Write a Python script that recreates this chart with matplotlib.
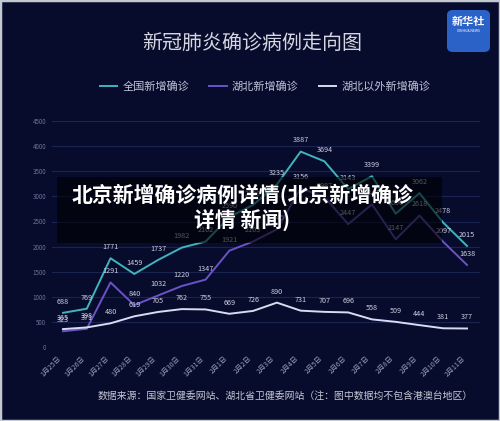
import matplotlib
matplotlib.use("Agg")
import matplotlib.pyplot as plt
from matplotlib.patches import Rectangle, FancyBboxPatch

plt.rcParams['font.family'] = ['Noto Sans CJK SC', 'DejaVu Sans']

dates = ["1月25日", "1月26日", "1月27日", "1月28日", "1月29日", "1月30日", "1月31日",
         "2月1日", "2月2日", "2月3日", "2月4日", "2月5日", "2月6日", "2月7日",
         "2月8日", "2月9日", "2月10日", "2月11日"]
national = [688, 769, 1771, 1459, 1737, 1982, 2102, 2590, 2829, 3235, 3887, 3694,
            3143, 3399, 2656, 3062, 2478, 2015]
hubei = [323, 371, 1291, 840, 1032, 1220, 1347, 1921, 2103, 2345, 3156, 2987,
         2447, 2841, 2147, 2618, 2097, 1638]
outside = [365, 398, 480, 619, 705, 762, 755, 669, 726, 890, 731, 707,
           696, 558, 509, 444, 381, 377]
series_names = ["全国新增确诊", "湖北新增确诊", "湖北以外新增确诊"]
yticks = [0, 500, 1000, 1500, 2000, 2500, 3000, 3500, 4000, 4500]

title = "新冠肺炎确诊病例走向图"
source = "数据来源：国家卫健委网站、湖北省卫健委网站（注：图中数据均不包含港澳台地区）"
overlay = "北京新增确诊病例详情(北京新增确诊\n详情 新闻)"

BG = "#080c2c"
W, H = 500, 421
fig = plt.figure(figsize=(W / 100, H / 100), dpi=100, facecolor=BG)

def fx(px):
    return px / W

def fy(py):
    return 1 - py / H

ax = fig.add_axes([fx(52), fy(347.5), fx(480) - fx(52), fy(120.7) - fy(347.5)])
ax.set_facecolor(BG)
x = list(range(len(dates)))
colors = ["#40b4bc", "#6a52c8", "#d8dcf0"]
for vals, c, name in zip([national, hubei, outside], colors, series_names):
    ax.plot(x, vals, color=c, lw=1.4, label=name, zorder=3)
    for xi, v in zip(x, vals):
        ax.annotate(str(v), (xi, v), xytext=(0, 8), textcoords="offset points",
                    ha="center", va="center", fontsize=5.2, color="#cdd0e2", zorder=4)

ax.set_xlim(-0.463, 17.547)
ax.set_ylim(0, 4500)
ax.set_yticks(yticks)
ax.set_yticklabels([str(t) for t in yticks])
ax.set_xticks(x)
ax.set_xticklabels(dates, rotation=45, ha="right", va="top")
ax.tick_params(axis="y", length=0, pad=4, labelsize=4.5, labelcolor="#6c7294")
ax.tick_params(axis="x", length=0, pad=5, labelsize=5, labelcolor="#959bba")
for s in ax.spines.values():
    s.set_visible(False)
ax.grid(axis="y", color="#1a2452", lw=0.8)
ax.set_axisbelow(True)

fig.text(fx(252), fy(43), title, ha="center", va="center", fontsize=14.4, color="#d4d6e0")

leg = fig.legend(loc="center", bbox_to_anchor=(fx(265), fy(87)), ncol=3, frameon=False,
                 fontsize=8, handlelength=1.6, handletextpad=0.45, columnspacing=1.8,
                 labelcolor="#c0c4d8")

fig.text(fx(285), fy(396), source, ha="center", va="center", fontsize=7.1, color="#c4c8d4")

# overlay box
fig.patches.append(Rectangle((fx(57), fy(243)), fx(442) - fx(57), fy(177) - fy(243),
                             transform=fig.transFigure, facecolor="black", alpha=0.6,
                             edgecolor="none", zorder=10))
fig.text(fx(242), fy(207), overlay, ha="center", va="center", multialignment="center",
         fontsize=15, color="white", fontweight="black", linespacing=1.15, zorder=11)

# logo
fig.patches.append(FancyBboxPatch((fx(447), fy(52)), fx(43), fy(10) - fy(52),
                                  boxstyle="round,pad=0,rounding_size=0.012",
                                  transform=fig.transFigure, facecolor="#2a62c8",
                                  edgecolor="none", zorder=5))
fig.text(fx(468.5), fy(22), "新华社", ha="center", va="center", fontsize=8,
         color="white", fontweight="bold", zorder=6)
fig.text(fx(468.5), fy(31), "XINHUA NEWS", ha="center", va="center", fontsize=2.5,
         color="white", zorder=6)

# outer frame
fig.patches.append(Rectangle((0, 0), 1, 1, transform=fig.transFigure, facecolor="none",
                             edgecolor="#c4c8d0", lw=2.5, zorder=20))

fig.savefig("out.png", dpi=100, facecolor=BG)
